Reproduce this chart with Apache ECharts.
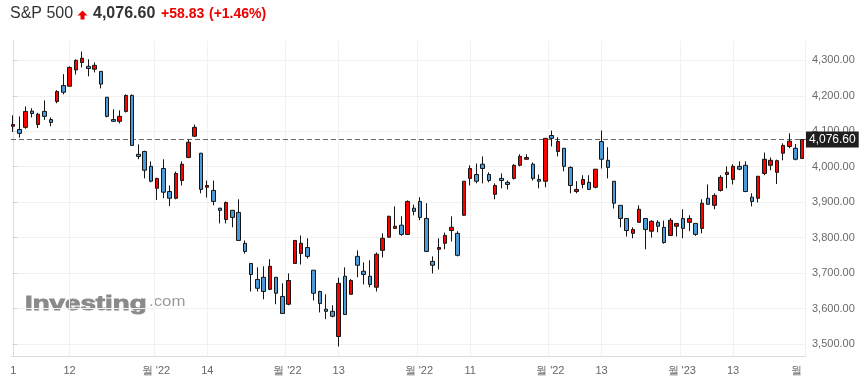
<!DOCTYPE html>
<html>
<head>
<meta charset="utf-8">
<script src="https://cdn.jsdelivr.net/npm/echarts@6/dist/echarts.min.js"></script>
<style>
html,body{margin:0;padding:0;background:#fff;}
#c{width:867px;height:388px;}
</style>
</head>
<body>
<div id="c"></div>
<script>
// Daily OHLC, index 0 = first session shown
const opens = [4114,4105,4111,4157,4119,4156,4133,4184,4229,4227,4273,4294,4283,4275,4269,4196,4133,4128,4156,4201,
4035,4043,4001,3939,3995,3930,3911,3961,4026,4086,4038,3942,3933,3883,3851,3877,3871,3784,3727,3682,
3688,3654,3688,3634,3612,3727,3755,3772,3708,3648,3598,3592,3521,3691,3640,3747,3705,3691,3660,3764,
3801,3826,3835,3809,3883,3902,3854,3733,3767,3784,3820,3812,3863,3967,3978,4007,3978,3922,3967,3956,
3967,4004,4021,4007,3964,3959,4088,4043,4052,3998,3930,3950,3956,3942,4071,4018,3959,3891,3854,3812,
3843,3854,3818,3843,3829,3806,3832,3854,3843,3840,3826,3911,3891,3933,3978,3964,4001,4004,3914,3911,
3981,4004,3984,4038,4057,4052,4023];
const highs = [4145,4142,4170,4165,4152,4187,4139,4216,4261,4283,4303,4325,4303,4294,4269,4196,4162,4159,4204,4204,
4063,4045,4015,3969,4021,3947,3986,4015,4077,4119,4039,3961,3961,3884,3902,3878,3908,3792,3728,3716,
3719,3739,3689,3671,3699,3792,3806,3798,3708,3650,3640,3609,3687,3716,3683,3764,3730,3736,3758,3812,
3862,3888,3860,3905,3893,3914,3897,3747,3798,3814,3860,3818,3959,4004,4009,4029,3984,3953,3981,3961,
4007,4035,4035,4012,3978,4080,4102,4083,4052,4001,3959,3976,3976,3993,4102,4055,3959,3891,3855,3829,
3891,3854,3849,3849,3848,3855,3840,3880,3863,3840,3908,3950,3925,3976,4001,4007,4015,4015,3925,3973,
4040,4026,4020,4066,4094,4064,4077];
const lows = [4098,4082,4107,4139,4109,4132,4114,4179,4204,4227,4260,4280,4255,4266,4221,4139,4126,4122,4153,4060,
4021,3967,3956,3906,3911,3889,3908,3947,4024,4084,3925,3913,3891,3840,3840,3829,3792,3755,3648,3648,
3626,3652,3612,3586,3609,3727,3724,3741,3623,3589,3570,3575,3493,3583,3640,3688,3668,3660,3648,3744,
3800,3826,3805,3809,3863,3849,3759,3699,3710,3767,3789,3747,3862,3947,3953,3953,3956,3908,3939,3936,
3964,4001,4020,3961,3939,3942,4057,4029,3987,3925,3925,3939,3934,3939,3995,3967,3882,3829,3803,3798,
3842,3767,3800,3815,3783,3806,3803,3798,3818,3805,3812,3893,3880,3930,3939,3950,3990,3928,3888,3899,
3976,3990,3951,4018,4052,4018,4023];
const closes = [4119,4094,4156,4150,4148,4142,4125,4212,4210,4280,4300,4306,4277,4286,4233,4142,4128,4142,4201,4060,
4029,3990,3959,3967,3928,3911,3981,4007,4069,4111,3936,3947,3902,3877,3899,3857,3792,3761,3696,3657,
3648,3719,3643,3586,3679,3792,3784,3747,3643,3614,3592,3578,3671,3583,3679,3722,3696,3668,3753,3798,
3860,3832,3809,3902,3874,3857,3761,3722,3772,3806,3829,3750,3959,3995,3959,3995,3961,3947,3961,3950,
4004,4029,4026,3967,3959,4080,4080,4071,4001,3947,3936,3964,3936,3993,4021,3998,3897,3854,3820,3823,
3880,3823,3846,3832,3786,3849,3840,3826,3854,3809,3897,3894,3919,3970,3984,4001,3993,3930,3902,3973,
4021,4018,4017,4060,4072,4021,4076.6];

// x-axis tick labels and the session index they belong to
const tickLabels = ['1','12',"월 '22",'14',"월 '22",'13',"월 '22",'11',"월 '22",'13',"월 '23",'13','월'];
const tickIndex  = [0, 9, 23, 31, 44, 52, 65, 73, 86, 94, 107, 115, 127];
const yTicks = [3500,3600,3700,3800,3900,4000,4100,4200,4300];

const lastPrice = 4076.60;
const change = 58.83;
const changePct = 1.46;

const fmt2 = v => v.toLocaleString('en-US',{minimumFractionDigits:2,maximumFractionDigits:2});

const n = closes.length;
const xMin = -0.35, xMax = n - 0.35;
const isMonth = tickLabels.map(t => t.indexOf('월') >= 0);
const gridPos = tickIndex.map((v,k) => isMonth[k] ? v - 0.5 : v);
const labelPos = tickIndex.map((v,k) => {
  let p = isMonth[k] ? v - 0.2 : v;
  return Math.min(p, n - 1.9);
});
const labelFor = v => {
  let best = 0, bd = 1e9;
  labelPos.forEach((p,k)=>{ const d = Math.abs(p - v); if (d < bd) { bd = d; best = k; } });
  return tickLabels[best];
};

const data = closes.map((c,i) => [i, opens[i], c, lows[i], highs[i]]);

const FONT = '"Liberation Sans", Arial, sans-serif';
const chart = echarts.init(document.getElementById('c'), null, {renderer:'canvas'});
chart.setOption({
  animation: false,
  backgroundColor: '#ffffff',
  grid: { left: 11, right: 61, top: 41, bottom: 32 },
  xAxis: {
    type: 'value', min: xMin, max: xMax,
    axisLine: { show: true, lineStyle: { color: '#dcdcdc' } },
    axisTick: { show: false, customValues: gridPos },
    splitLine: { show: true, lineStyle: { color: '#f1f1f1', width: 1 } },
    axisLabel: {
      customValues: labelPos,
      formatter: v => labelFor(v),
      color: '#666', fontSize: 11, fontFamily: FONT, margin: 9,
      showMinLabel: true, showMaxLabel: true
    }
  },
  yAxis: {
    type: 'value', position: 'right', min: 3466, max: 4354.6, scale: true,
    axisLine: { show: true, lineStyle: { color: '#dcdcdc' } },
    axisTick: { show: true, length: 4, customValues: yTicks, lineStyle: { color: '#cfcfcf' } },
    splitLine: { show: true, lineStyle: { color: '#f1f1f1', width: 1 } },
    axisLabel: { customValues: yTicks, formatter: v => fmt2(v), color: '#6a6a6a', fontSize: 11, fontFamily: FONT, margin: 6 }
  },
  series: [{
    type: 'candlestick',
    dimensions: ['idx','open','close','lowest','highest'],
    encode: { x: 0, y: [1,2,3,4] },
    data: data,
    barWidth: 4,
    itemStyle: {
      color: '#ff0000', color0: '#4a9bd9',
      borderColor: '#151515', borderColor0: '#151515', borderWidth: 1
    },
    markLine: {
      silent: true,
      symbol: ['none','none'],
      z: 1,
      data: [{ yAxis: lastPrice }],
      lineStyle: { type: [5,3], color: '#666666', width: 1 },
      label: {
        show: true, position: 'end', formatter: fmt2(lastPrice),
        backgroundColor: '#1e1e1e', color: '#ffffff', fontSize: 12, fontFamily: FONT,
        padding: [2,3,2,3], distance: 0
      }
    }
  }],
  graphic: [
    { type:'text', x: 10, y: 14, style: { text:'S&P 500', fill:'#333', font: '16px ' + FONT, verticalAlign:'middle', textVerticalAlign:'middle' } },
    { type:'polygon', shape: { points: [[77.5,15.5],[82.5,10.5],[87.5,15.5],[84.5,15.5],[84.5,19.5],[80.5,19.5],[80.5,15.5]] }, style: { fill: '#ee0000' } },
    { type:'text', x: 93, y: 14, style: { text: fmt2(lastPrice), fill:'#333', font: 'bold 16px ' + FONT, verticalAlign:'middle', textVerticalAlign:'middle' } },
    { type:'text', x: 161, y: 14.5, style: { text: '+' + fmt2(change), fill:'#ee0000', font: 'bold 14px ' + FONT, verticalAlign:'middle', textVerticalAlign:'middle' } },
    { type:'text', x: 209, y: 14.5, style: { text: '(+' + changePct.toFixed(2) + '%)', fill:'#ee0000', font: 'bold 14px ' + FONT, verticalAlign:'middle', textVerticalAlign:'middle' } },
    { type:'text', x: 25, y: 295, scaleX: 1.42, originX: 0, originY: 0, z: -10, style: { text:'Investing', fill:'#8a8a8a', stroke:'#8a8a8a', lineWidth: 0.9, font: 'bold 19.5px ' + FONT, verticalAlign:'alphabetic', textVerticalAlign:'alphabetic' } },
    { type:'text', x: 149, y: 295, scaleX: 1.2, originX: 0, originY: 0, z: -10, style: { text:'.com', fill:'#9a9a9a', font: '14px ' + FONT, verticalAlign:'alphabetic', textVerticalAlign:'alphabetic' } }
  ]
});
</script>
</body>
</html>
